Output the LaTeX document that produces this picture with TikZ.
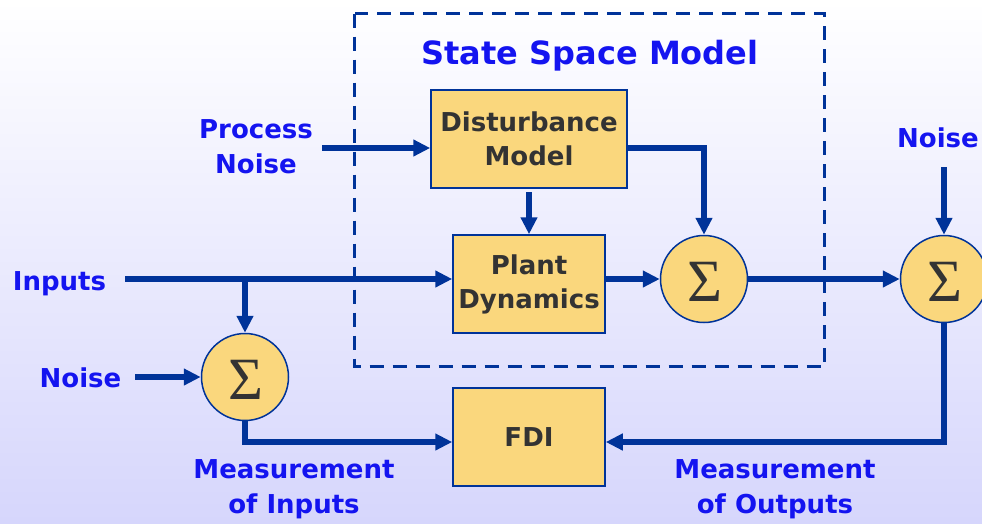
\documentclass[tikz,border=0pt]{standalone}
\usepackage{fontspec}
\setmainfont{DejaVu Sans}
\newfontfamily\sigfont{Liberation Serif}
\usetikzlibrary{arrows.meta}
\definecolor{lineblue}{RGB}{0,51,153}
\definecolor{labelblue}{RGB}{20,20,240}
\definecolor{boxfill}{RGB}{250,215,125}
\definecolor{boxtext}{RGB}{51,51,51}
\definecolor{bgbot}{RGB}{214,214,252}
\begin{document}
\begin{tikzpicture}[x=1pt,y=-1pt,
  block/.style={draw=lineblue, line width=1.5pt, fill=boxfill, align=center,
    text=boxtext, font=\fontsize{26}{34}\selectfont\bfseries, inner sep=0pt},
  sumnode/.style={circle, draw=lineblue, line width=1.5pt, fill=boxfill,
    minimum size=87pt, inner sep=0pt, text=boxtext,
    font=\sigfont\fontsize{60}{60}\selectfont},
  lbl/.style={text=labelblue, align=center, font=\fontsize{26}{35}\selectfont\bfseries, inner sep=0pt},
  arr/.style={draw=lineblue, line width=5.5pt, -{Triangle[length=17pt,width=16pt]}},
  dashbox/.style={draw=lineblue, line width=3pt, dash pattern=on 14pt off 9pt}
]
\shade[top color=white, bottom color=bgbot] (0,0) rectangle (982,523);
\useasboundingbox (0,0) rectangle (982,523);

% dashed model boundary
\draw[dashbox] (354.5,13.5) rectangle (824.5,366.5);
\node[lbl, font=\fontsize{32}{34}\selectfont\bfseries] (title) at (590,56) {State Space Model};

% blocks
\node[block, minimum width=196pt, minimum height=98pt] (dist) at (529,139) {Disturbance\\Model};
\node[block, minimum width=152pt, minimum height=98pt] (plant) at (529,284) {Plant\\Dynamics};
\node[block, minimum width=152pt, minimum height=98pt] (fdi) at (529,437) {FDI};

% summing junctions
\node[sumnode] (s1) at (704,279) {};
\node[sumnode] (s2) at (944,279) {};
\node[sumnode] (s3) at (245,377) {};
\node[text=boxtext, font=\sigfont\fontsize{60}{60}\selectfont, inner sep=0pt] (s1t) at (705,282) {Σ};
\node[text=boxtext, font=\sigfont\fontsize{60}{60}\selectfont, inner sep=0pt] (s2t) at (945,282) {Σ};
\node[text=boxtext, font=\sigfont\fontsize{60}{60}\selectfont, inner sep=0pt] (s3t) at (246,380) {Σ};

% labels
\node[lbl] (pnl) at (256,147) {Process\\Noise};
\node[lbl] (n2l) at (938,138) {Noise};
\node[lbl] (inl) at (59.5,284) {Inputs};
\node[lbl] (n3l) at (80.5,378) {Noise};
\node[lbl] (mil) at (294,489) {Measurement\\of Inputs};
\node[lbl] (mol) at (775,489) {Measurement\\of Outputs};

% free ends
\coordinate (pn) at (322,148);
\coordinate (n2) at (944,167);
\coordinate (in) at (125,279);
\coordinate (n3) at (135,377);
\coordinate (br) at (245,279);
\coordinate (dr) at (704,148);
\coordinate (db) at (529,192);
\coordinate (c3) at (245,442);
\coordinate (c2) at (944,442);

% connectors
\draw[arr] (pn) -- (dist.west |- pn);
\draw[arr] (dist.east |- dr) -- (dr) -- (s1.north);
\draw[arr] (db) -- (plant.north);
\draw[arr] (in) -- (plant.west |- in);
\draw[arr] (br) -- (s3.north);
\draw[arr] (plant.east |- s1) -- (s1.west);
\draw[arr] (s1.east) -- (s2.west);
\draw[arr] (n2) -- (s2.north);
\draw[arr] (n3) -- (s3.west);
\draw[arr] (s3.south) -- (c3) -- (fdi.west |- c3);
\draw[arr] (s2.south) -- (c2) -- (fdi.east |- c2);
\end{tikzpicture}
\end{document}
